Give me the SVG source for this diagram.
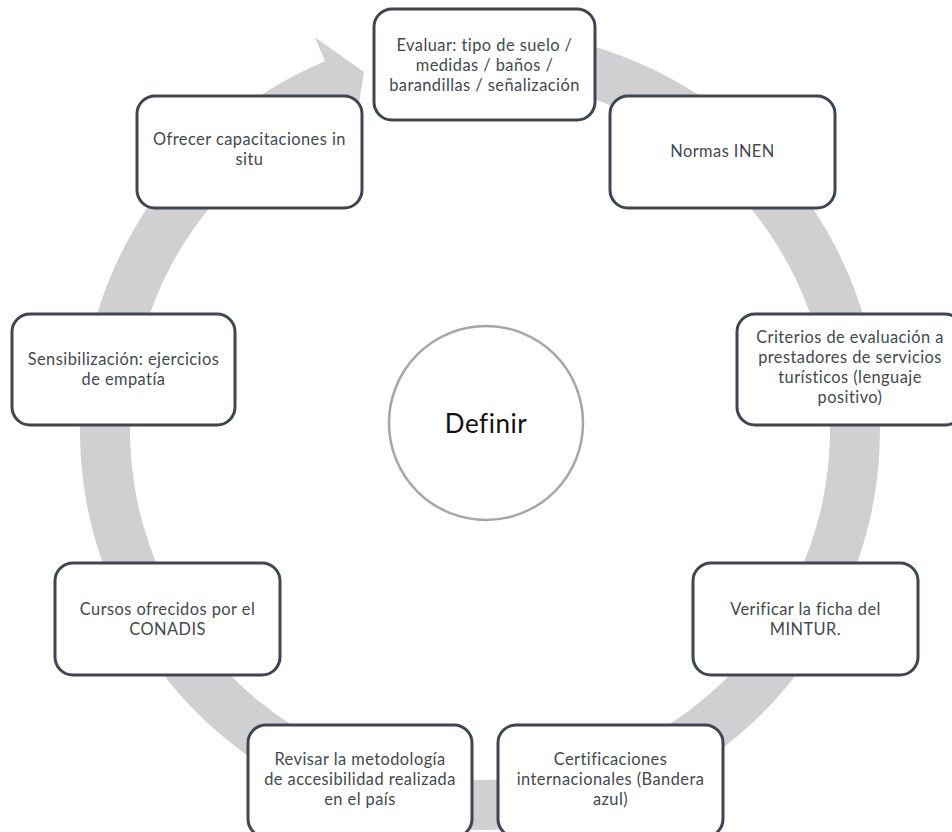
<svg xmlns="http://www.w3.org/2000/svg" width="952" height="832" viewBox="0 0 952 832">
<style>
.box{fill:#ffffff;stroke:#3E4751;stroke-width:3}
.t{font-family:Lato,"Open Sans",sans-serif;font-size:16.4px;letter-spacing:0.45px;fill:#44484D;text-anchor:middle;font-variant-ligatures:none}
.ring{fill:#D0D0D3}
</style>
<rect width="952" height="832" fill="#ffffff"/>
<g id="connectors">
<path class="ring" d="M514.9,31.5 A400,400 0 1 1 325,61.2 L314.9,37.3 L364,72 L354.4,131.3 L344.4,107.3 A350,350 0 1 0 510.5,81.3 Z"/>
</g>
<g id="center">
<circle cx="486" cy="423" r="97" fill="#ffffff" stroke="#A6A6A6" stroke-width="2.5"/>
<text x="486" y="433" font-family="Lato,'Open Sans',sans-serif" font-size="26" letter-spacing="0.5" fill="#111111" text-anchor="middle" style="font-variant-ligatures:none">Definir</text>
</g>
<g id="n1">
<rect class="box" x="374" y="9" width="221" height="111" rx="18"/>
<text class="t" x="484.5" y="50.5">Evaluar: tipo de suelo /</text>
<text class="t" x="484.5" y="70.5">medidas / baños /</text>
<text class="t" x="484.5" y="90.5">barandillas / señalización</text>
</g>
<g id="n2">
<rect class="box" x="610" y="96" width="225" height="112" rx="18"/>
<text class="t" x="722.5" y="157">Normas INEN</text>
</g>
<g id="n3">
<rect class="box" x="737" y="314" width="226" height="111" rx="18"/>
<text class="t" x="850" y="342.5">Criterios de evaluación a</text>
<text class="t" x="850" y="362.5">prestadores de servicios</text>
<text class="t" x="850" y="382.5">turísticos (lenguaje</text>
<text class="t" x="850" y="402.5">positivo)</text>
</g>
<g id="n4">
<rect class="box" x="693" y="563" width="225" height="112" rx="18"/>
<text class="t" x="805.5" y="615">Verificar la ficha del</text>
<text class="t" x="805.5" y="635">MINTUR.</text>
</g>
<g id="n5">
<rect class="box" x="498" y="725" width="225" height="112" rx="18"/>
<text class="t" x="610.5" y="765">Certificaciones</text>
<text class="t" x="610.5" y="785">internacionales (Bandera</text>
<text class="t" x="610.5" y="805">azul)</text>
</g>
<g id="n6">
<rect class="box" x="248" y="725" width="224" height="112" rx="18"/>
<text class="t" x="360" y="765">Revisar la metodología</text>
<text class="t" x="360" y="785">de accesibilidad realizada</text>
<text class="t" x="360" y="805">en el país</text>
</g>
<g id="n7">
<rect class="box" x="55" y="563" width="225" height="112" rx="18"/>
<text class="t" x="167.5" y="615">Cursos ofrecidos por el</text>
<text class="t" x="167.5" y="635">CONADIS</text>
</g>
<g id="n8">
<rect class="box" x="12" y="314" width="223" height="111" rx="18"/>
<text class="t" x="123.5" y="365">Sensibilización: ejercicios</text>
<text class="t" x="123.5" y="385">de empatía</text>
</g>
<g id="n9">
<rect class="box" x="137" y="96" width="225" height="112" rx="18"/>
<text class="t" x="249.5" y="145">Ofrecer capacitaciones in</text>
<text class="t" x="249.5" y="165">situ</text>
</g>
</svg>
